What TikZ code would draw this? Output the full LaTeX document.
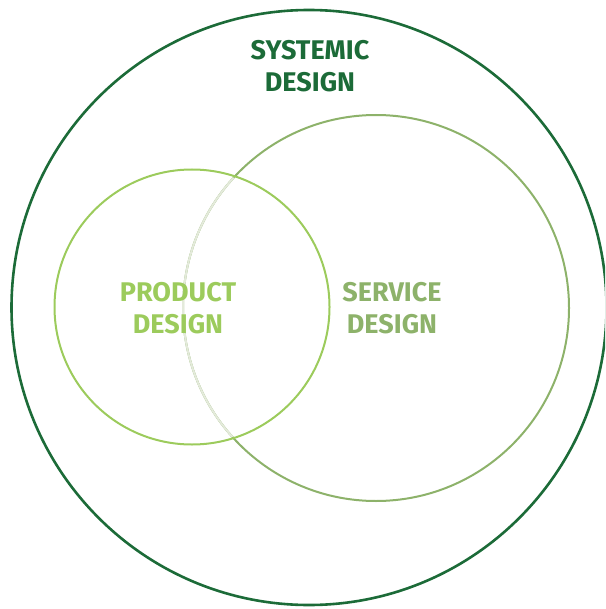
\documentclass[tikz,border=0pt]{standalone}
\usepackage{fontspec}
\setmainfont{Fira Sans}
\usepackage{tikz}
\usetikzlibrary{positioning}
\definecolor{sysgreen}{HTML}{1C6B38}
\definecolor{prodgreen}{HTML}{9CCB5C}
\definecolor{servgreen}{HTML}{8DB26A}
\definecolor{palegreen}{HTML}{E4EADB}

\begin{document}
\begin{tikzpicture}[line cap=round,line join=round,x=1pt,y=-1pt,
  label/.style={font=\fontsize{27}{32}\selectfont\bfseries,align=center,inner sep=0pt}]
\clip (0,0) rectangle (605,609);
\useasboundingbox (0,0) rectangle (605,609);
\draw [sysgreen,line width=2.6pt] (309,307.5) circle (297.5);
\draw [servgreen,line width=2pt] (376,308) circle (193);
\begin{scope}
\clip (192,307) circle (136);
\draw [palegreen,line width=2pt] (376,308) circle (193);
\end{scope}
\draw [prodgreen,line width=2pt] (192,307) circle (137.5);
\node [label,text=sysgreen] (systemic) at (310,66) {SYSTEMIC\\DESIGN};
\node [label,text=prodgreen] (product) at (178,308) {PRODUCT\\DESIGN};
\node [label,text=servgreen] (service) at (392,308) {SERVICE\\DESIGN};
\end{tikzpicture}
\end{document}
